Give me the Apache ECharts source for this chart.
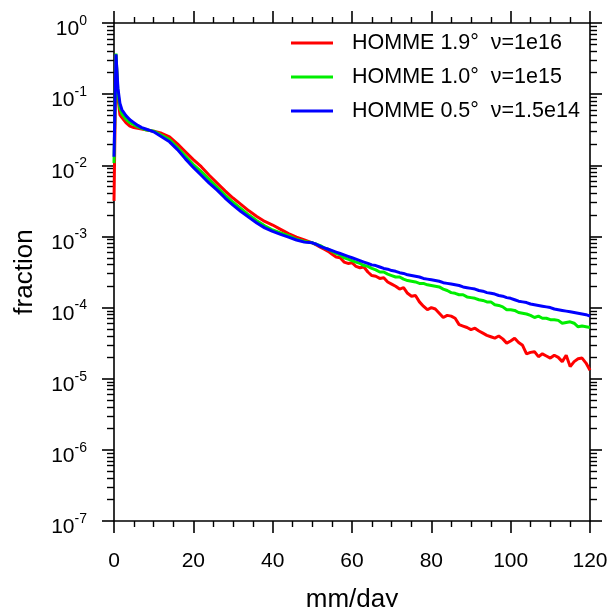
<!DOCTYPE html>
<html><head><meta charset="utf-8">
<script src="https://cdn.jsdelivr.net/npm/echarts@6/dist/echarts.min.js"></script>
<style>html,body{margin:0;padding:0;background:#fff}#c{width:611px;height:607px}</style>
</head><body><div id="c"></div>
<script>
// rain rate bins (mm/day)
const xs = [0,0.5,1,1.5,2,3,4,5,6,7,8,9,10,
  12,14,16,18,20,22,24,26,28,30,32,34,36,38,40,42,44,46,48,
  50,51,52,53,54,55,56,57,58,59,60,61,62,63,64,65,66,67,68,69,70,71,72,73,74,75,76,77,78,79,
  80,81,82,83,84,85,86,87,88,89,90,91,92,93,94,95,96,97,98,99,100,101,102,103,104,105,106,107,108,109,
  110,111,112,113,114,115,116,117,118,119,120];
// log10(fraction)
const redExp = [-2.5,-0.45,-1.05,-1.29,-1.33,-1.40,-1.45,-1.47,-1.48,-1.49,-1.50,-1.51,-1.52,
  -1.55,-1.60,-1.70,-1.81,-1.92,-2.02,-2.14,-2.25,-2.36,-2.46,-2.55,-2.64,-2.72,-2.79,-2.84,-2.90,-2.96,-3.01,-3.05,
  -3.09,-3.12,-3.15,-3.18,-3.21,-3.25,-3.29,-3.30,-3.36,-3.38,-3.37,-3.42,-3.44,-3.43,-3.50,-3.55,-3.56,-3.59,-3.58,-3.64,
  -3.67,-3.70,-3.74,-3.72,-3.80,-3.84,-3.83,-3.92,-3.98,-4.03,
  -4.00,-4.02,-4.08,-4.14,-4.11,-4.12,-4.15,-4.24,-4.26,-4.28,-4.31,-4.29,-4.33,-4.36,-4.39,-4.41,-4.43,-4.40,-4.44,-4.50,
  -4.47,-4.43,-4.49,-4.53,-4.65,-4.63,-4.62,-4.69,-4.65,-4.68,
  -4.71,-4.67,-4.70,-4.76,-4.67,-4.83,-4.76,-4.72,-4.71,-4.78,-4.88];
const greenExp = [-1.97,-0.43,-0.98,-1.20,-1.28,-1.35,-1.40,-1.43,-1.46,-1.48,-1.50,-1.51,-1.52,
  -1.58,-1.64,-1.75,-1.87,-1.99,-2.09,-2.20,-2.31,-2.42,-2.52,-2.61,-2.70,-2.78,-2.85,-2.91,-2.95,-2.99,-3.04,-3.07,
  -3.09,-3.11,-3.13,-3.16,-3.18,-3.21,-3.24,-3.26,-3.30,-3.32,-3.34,-3.36,-3.38,-3.41,-3.42,-3.45,-3.47,-3.50,-3.50,-3.53,
  -3.55,-3.57,-3.57,-3.60,-3.62,-3.63,-3.64,-3.66,-3.66,-3.68,
  -3.69,-3.70,-3.71,-3.74,-3.76,-3.79,-3.80,-3.82,-3.82,-3.85,-3.86,-3.87,-3.89,-3.90,-3.92,-3.92,-3.96,-3.97,-3.99,-4.03,
  -4.03,-4.04,-4.07,-4.08,-4.09,-4.11,-4.14,-4.12,-4.15,-4.15,
  -4.17,-4.17,-4.18,-4.22,-4.21,-4.20,-4.22,-4.27,-4.26,-4.27,-4.28];
const blueExp = [-1.88,-0.44,-0.92,-1.13,-1.22,-1.30,-1.36,-1.40,-1.44,-1.47,-1.49,-1.51,-1.53,
  -1.60,-1.67,-1.78,-1.91,-2.03,-2.14,-2.25,-2.35,-2.46,-2.56,-2.65,-2.73,-2.81,-2.88,-2.93,-2.97,-3.01,-3.05,-3.08,
  -3.09,-3.11,-3.14,-3.16,-3.18,-3.20,-3.22,-3.24,-3.26,-3.28,-3.30,-3.32,-3.34,-3.36,-3.38,-3.40,-3.41,-3.43,-3.45,-3.46,
  -3.48,-3.49,-3.51,-3.52,-3.54,-3.55,-3.56,-3.57,-3.59,-3.60,
  -3.61,-3.62,-3.63,-3.65,-3.66,-3.67,-3.68,-3.69,-3.71,-3.72,-3.73,-3.74,-3.76,-3.77,-3.79,-3.80,-3.81,-3.83,-3.84,-3.86,
  -3.87,-3.89,-3.91,-3.92,-3.93,-3.95,-3.96,-3.97,-3.98,-3.99,
  -4.00,-4.02,-4.03,-4.04,-4.05,-4.06,-4.07,-4.08,-4.09,-4.10,-4.12];
const seriesNames = ['HOMME 1.9\u00b0  \u03bd=1e16','HOMME 1.0\u00b0  \u03bd=1e15','HOMME 0.5\u00b0  \u03bd=1.5e14'];
const seriesColors = ['#ff0000','#00ee00','#0000ff'];
const xTicks = {min:0, max:120, interval:20};
const yDecades = {min:-7, max:0};

const FONT = '"Liberation Sans", Arial, Helvetica, sans-serif';
const minorY = [];
for (let n = yDecades.min; n < yDecades.max; n++) for (let k = 2; k <= 9; k++) minorY.push(n + Math.log10(k));

const lineCol = '#000';
function xAx(pos, labels) {
  return {type:'value', position:pos, min:xTicks.min, max:xTicks.max, interval:xTicks.interval,
    axisLine:{show:true, onZero:false, lineStyle:{color:lineCol, width:1.6}},
    axisTick:{show:true, inside:false, length:12, lineStyle:{color:lineCol, width:1.6}},
    minorTick:{show:true, splitNumber:4, length:6, lineStyle:{color:lineCol, width:1.4}},
    splitLine:{show:false}, minorSplitLine:{show:false},
    axisLabel:{show:labels, margin:30, fontFamily:FONT, fontSize:21, color:'#000'},
    name: labels ? 'mm/day' : '', nameLocation:'middle', nameGap:66,
    nameTextStyle:{fontFamily:FONT, fontSize:26, color:'#000'}};
}
function yAx(pos, major, labels) {
  const a = {type:'value', position:pos, min:yDecades.min, max:yDecades.max, interval:1,
    axisLine:{show:major, onZero:false, lineStyle:{color:lineCol, width:1.6}},
    axisTick:{show:true, inside:false, length: major ? 12 : 7, lineStyle:{color:lineCol, width: major ? 1.6 : 1.4}},
    splitLine:{show:false},
    axisLabel:{show:labels, margin:27, showMinLabel:true, showMaxLabel:true, padding:[8,0,0,0],
      formatter: v => '{b|10}{s|' + v + '}',
      rich:{b:{fontFamily:FONT, fontSize:21, color:'#000', lineHeight:26, verticalAlign:'bottom'},
            s:{fontFamily:FONT, fontSize:14, color:'#000', lineHeight:14, verticalAlign:'top'}}},
    name: labels ? 'fraction' : '', nameLocation:'middle', nameGap:76,
    nameTextStyle:{fontFamily:FONT, fontSize:26, color:'#000'}};
  if (!major) a.axisTick.customValues = minorY;
  return a;
}

const chart = echarts.init(document.getElementById('c'), null, {renderer:'canvas'});
chart.setOption({
  backgroundColor:'#fff',
  animation:false,
  grid:{left:114, right:21, top:23, bottom:86, containLabel:false, outerBoundsMode:'none'},
  legend:{orient:'vertical', left:286, top:27, icon:'rect', itemWidth:42, itemHeight:3, itemGap:12,
    data:seriesNames,
    textStyle:{fontFamily:FONT, fontSize:21.5, color:'#000', lineHeight:22, padding:[0,0,0,14]}},
  xAxis:[xAx('bottom', true), xAx('top', false)],
  yAxis:[yAx('left', true, true), yAx('left', false, false), yAx('right', true, false), yAx('right', false, false)],
  series:[redExp, greenExp, blueExp].map((arr, i) => ({
    name:seriesNames[i], type:'line', xAxisIndex:0, yAxisIndex:0,
    symbol:'none', showSymbol:false, smooth:false,
    color:seriesColors[i],
    lineStyle:{color:seriesColors[i], width:3},
    data: xs.map((x, j) => [x, arr[j]])
  }))
});
</script></body></html>
